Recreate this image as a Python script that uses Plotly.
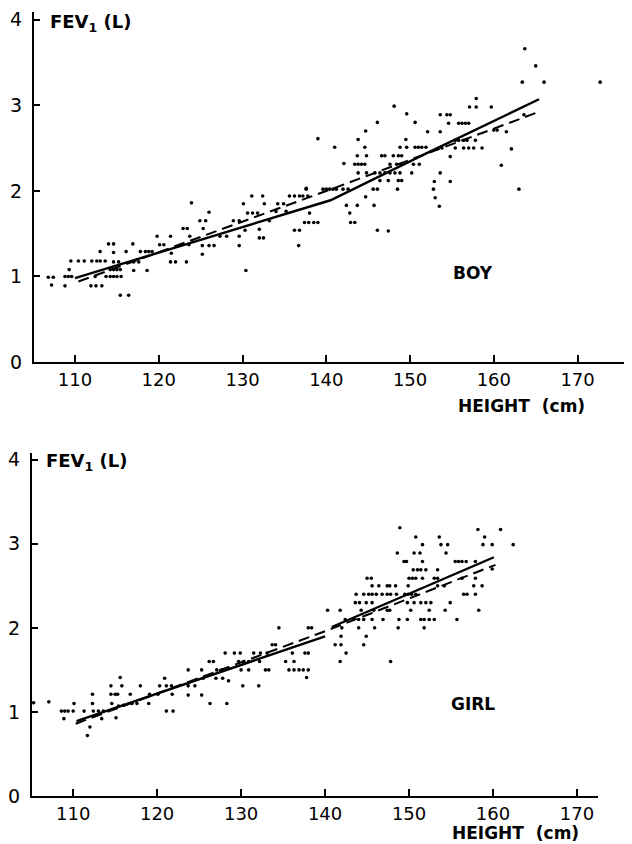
import plotly.graph_objects as go

# ---------------- data ----------------
boy_height = [
    106.8, 107.4, 107.2, 108.8, 108.8, 109.2, 109.6, 109.3,
    109.5, 110.4, 111.1, 112.0, 112.6, 113.0, 113.6,
    111.9, 112.5, 113.2, 112.4, 113.7, 114.2, 114.6, 115.0, 115.5,
    113.0, 114.0, 114.6, 114.6, 114.2, 114.6, 115.0, 115.4,
    114.6, 115.2, 115.4, 116.4, 116.9, 117.0, 117.0, 117.6,
    117.8, 118.4, 118.8, 119.2, 116.1, 118.6, 119.8, 120.1, 120.6,
    121.4, 121.5, 121.4, 122.0, 123.3, 122.9, 123.4, 123.7, 123.6,
    123.9, 124.9, 125.6, 126.0, 125.3, 125.2, 126.0, 126.6, 125.2,
    127.3, 128.1, 128.9, 129.6, 129.6, 130.1, 130.4, 130.3,
    130.6, 131.2, 131.8, 131.1, 132.4, 132.6, 132.0, 132.0, 132.5,
    133.2, 134.2, 134.9, 135.6, 136.2, 136.8, 137.2, 137.8, 137.6,
    136.2, 136.8, 136.7, 137.4, 137.9, 138.0, 134.0, 135.2, 129.6,
    139.0, 141.0, 142.1, 143.8, 144.6, 143.7, 144.8,
    137.6, 139.6, 140.0, 140.4, 140.8, 141.2, 142.0, 142.6,
    142.4, 143.7, 145.7, 142.8, 138.5, 139.0, 142.9, 143.4,
    146.1, 147.4, 144.7, 145.6, 146.1, 148.5,
    146.4, 147.4, 148.6, 149.0,
    143.4, 143.8, 144.2, 144.6, 147.6, 148.4, 149.0, 150.4, 151.1,
    143.8, 144.8, 145.8, 146.4, 147.0, 147.6, 148.2, 148.8, 150.2,
    146.6, 147.0, 148.0, 148.6, 149.0,
    144.7, 146.1, 148.1, 149.6, 150.6, 149.5,
    148.8, 149.6, 150.6, 151.0, 151.4, 151.9,
    153.6, 154.8, 152.9, 152.8, 153.0, 153.5, 154.8, 152.1, 153.6,
    153.6, 154.4, 154.8, 154.6, 155.8, 156.2, 156.6, 157.0,
    155.4, 155.8, 156.4, 156.8, 157.8,
    153.8, 155.4, 156.4, 157.0, 157.6, 158.6,
    157.9, 157.1, 157.9, 159.7, 160.0, 160.4, 161.5, 160.9, 162.1, 163.0,
    163.6, 163.4, 166.0, 172.7, 165.0, 163.7,
]
boy_fev = [
    0.99, 0.99, 0.90, 0.89, 1.00, 1.00, 1.00, 1.08,
    1.18, 1.18, 1.18, 1.18, 1.18, 1.18, 1.18,
    0.89, 0.89, 0.89, 1.00, 1.00, 1.00, 1.00, 1.00, 1.00,
    1.29, 1.38, 1.38, 1.28, 1.08, 1.08, 1.08, 1.08,
    1.17, 1.17, 0.78, 0.78, 1.38, 1.07, 1.17, 1.17,
    1.29, 1.29, 1.29, 1.29, 1.29, 1.07, 1.47, 1.37, 1.37,
    1.47, 1.27, 1.17, 1.17, 1.17, 1.56, 1.56, 1.47, 1.37,
    1.86, 1.65, 1.65, 1.75, 1.56, 1.36, 1.36, 1.36, 1.26,
    1.47, 1.47, 1.65, 1.47, 1.36, 1.85, 1.07, 1.54,
    1.74, 1.74, 1.74, 1.94, 1.94, 1.85, 1.55, 1.45, 1.45,
    1.65, 1.85, 1.85, 1.94, 1.94, 1.94, 1.94, 1.94, 2.03,
    1.54, 1.54, 1.36, 1.63, 1.63, 1.74, 1.76, 1.76, 1.65,
    2.61, 2.51, 2.32, 2.60, 2.51, 2.41, 2.41,
    2.02, 2.02, 2.02, 2.02, 2.02, 2.02, 2.02, 2.02,
    1.83, 1.83, 1.83, 1.74, 1.63, 1.63, 1.63, 1.63,
    1.54, 1.53, 1.93, 2.02, 2.02, 2.02,
    2.12, 2.12, 2.12, 2.12,
    2.31, 2.31, 2.31, 2.31, 2.31, 2.31, 2.31, 2.31, 2.31,
    2.21, 2.21, 2.21, 2.21, 2.21, 2.21, 2.21, 2.21, 2.21,
    2.41, 2.41, 2.41, 2.41, 2.41,
    2.70, 2.80, 2.99, 2.90, 2.80, 2.60,
    2.51, 2.51, 2.51, 2.51, 2.51, 2.51,
    2.21, 2.11, 2.11, 2.02, 1.92, 1.82, 2.40, 2.69, 2.69,
    2.89, 2.89, 2.89, 2.79, 2.79, 2.79, 2.79, 2.79,
    2.59, 2.59, 2.59, 2.59, 2.59,
    2.50, 2.50, 2.50, 2.50, 2.50, 2.50,
    3.08, 2.98, 2.98, 2.98, 2.71, 2.71, 2.69, 2.30, 2.49, 2.02,
    2.89, 3.27, 3.27, 3.27, 3.46, 3.66,
]

girl_height = [
    105.3, 107.1, 108.6, 109.0, 109.4, 108.9, 110.0, 110.1, 111.3, 111.7, 112.0,
    112.3, 112.3, 112.4, 113.0, 113.6, 113.4, 114.5, 114.5, 115.0, 115.3, 114.6,
    115.1, 115.6, 115.8, 115.4, 116.0, 116.8, 117.0, 117.6, 118.0, 119.0, 119.1,
    120.1, 120.3, 120.9, 121.1, 121.9, 121.8, 121.1, 121.7, 123.7, 123.7, 123.7,
    124.5, 125.3, 125.3, 125.5, 126.3, 126.2, 126.7, 127.0, 127.1, 127.7, 127.8,
    128.1, 128.3, 128.5, 129.2, 129.9, 129.7, 130.3, 130.9, 130.0, 130.9, 130.2,
    132.1, 131.5, 132.3, 133.1, 132.2, 132.9, 133.3, 134.5, 133.7, 134.1,
    135.3, 136.3, 135.7, 136.3, 136.9, 137.4, 138.0, 136.1, 137.6, 138.0, 137.8,
    138.0, 138.4,
    148.9,
    150.8, 153.6, 159.0,
    158.2, 160.9,
    151.6, 153.8, 154.6, 158.8, 159.9, 162.4,
    148.6, 150.6, 151.3, 154.4,
    149.4, 149.7, 151.6, 155.5, 155.9, 156.3, 156.8, 157.9,
    159.9,
    150.5, 151.0, 151.4, 152.0, 153.4,
    145.0, 145.5, 150.0, 150.4, 150.8, 151.6, 153.0, 153.4, 156.3, 157.9,
    145.6, 146.4, 147.4, 147.7, 148.4, 149.9, 153.4, 154.2, 157.7, 158.7,
    143.7, 144.6, 145.2, 145.6, 146.1, 146.8, 147.4, 147.8, 148.5, 149.5, 149.9, 150.3, 150.8, 156.5, 156.9, 157.9,
    143.6, 144.1, 144.9, 145.6, 149.8, 150.6, 151.4, 152.0, 152.6, 154.9,
    140.3, 141.8, 144.3, 145.8, 147.4, 147.7, 150.2, 152.4, 154.3, 158.3,
    142.4, 143.4, 144.0, 144.6, 145.6, 146.9, 148.8, 149.8, 151.4, 151.8, 152.4, 153.0, 155.7,
    142.0, 144.0, 145.9, 148.7, 151.8,
    141.9, 144.9,
    141.2, 141.9, 144.6,
    142.5,
    141.8, 147.8,
]
girl_fev = [
    1.11, 1.12, 1.01, 1.01, 1.01, 0.92, 1.01, 1.10, 1.01, 0.72, 0.82,
    1.10, 1.21, 1.01, 1.01, 1.01, 0.92, 1.31, 1.21, 1.21, 1.21, 1.10,
    0.93, 1.41, 1.31, 1.07, 1.08, 1.21, 1.10, 1.10, 1.31, 1.10, 1.21,
    1.21, 1.31, 1.40, 1.01, 1.01, 1.21, 1.31, 1.31, 1.50, 1.31, 1.20,
    1.31, 1.50, 1.20, 1.40, 1.10, 1.60, 1.60, 1.40, 1.50, 1.50, 1.40,
    1.70, 1.10, 1.37, 1.70, 1.70, 1.60, 1.60, 1.60, 1.50, 1.50, 1.31,
    1.31, 1.70, 1.70, 1.70, 1.60, 1.50, 1.50, 2.00, 1.80, 1.80,
    1.60, 1.60, 1.50, 1.50, 1.50, 1.50, 1.50, 1.70, 1.70, 1.70, 1.41,
    2.00, 2.00,
    3.19,
    3.08, 3.08, 3.08,
    3.17, 3.17,
    2.99, 2.99, 2.99, 2.99, 2.99, 2.99,
    2.89, 2.89, 2.89, 2.89,
    2.79, 2.79, 2.79, 2.79, 2.79, 2.79, 2.79, 2.79,
    2.70,
    2.69, 2.69, 2.69, 2.69, 2.69,
    2.59, 2.59, 2.59, 2.59, 2.59, 2.59, 2.59, 2.59, 2.59, 2.59,
    2.50, 2.50, 2.50, 2.50, 2.50, 2.50, 2.50, 2.50, 2.50, 2.50,
    2.40, 2.40, 2.40, 2.40, 2.40, 2.40, 2.40, 2.40, 2.40, 2.40, 2.40, 2.40, 2.40, 2.40, 2.40, 2.40,
    2.30, 2.30, 2.30, 2.30, 2.30, 2.30, 2.30, 2.30, 2.30, 2.30,
    2.21, 2.21, 2.21, 2.21, 2.21, 2.21, 2.21, 2.21, 2.21, 2.21,
    2.10, 2.10, 2.10, 2.10, 2.10, 2.10, 2.10, 2.10, 2.10, 2.10, 2.10, 2.10, 2.10,
    2.00, 2.00, 2.00, 2.00, 2.00,
    1.90, 1.90,
    1.80, 1.80, 1.80,
    1.70,
    1.60, 1.60,
]

# regression lines (solid and dashed)
boy_solid_x = [110.0, 125.0, 140.5, 152.0, 165.4]
boy_solid_y = [0.98, 1.43, 1.89, 2.44, 3.07]
boy_dash_x = [110.4, 140.6, 165.3]
boy_dash_y = [0.94, 2.02, 2.92]
girl_solid_x = [110.4, 140.0, None, 140.8, 160.1]
girl_solid_y = [0.89, 1.90, None, 2.01, 2.84]
girl_dash_x = [110.3, 140.0, 160.3]
girl_dash_y = [0.86, 1.96, 2.75]

x_ticks = [110, 120, 130, 140, 150, 160, 170]
y_ticks = [0, 1, 2, 3, 4]

# ---------------- figure ----------------
# The page body has an 8px margin, so the figure is drawn 8px in from the
# top-left corner; sizes/positions below are expressed in page pixels.
OFF = 8
W, H = 632 - OFF, 844 - OFF
FONT = "DejaVu Sans"

def fx(px):
    return (px - OFF) / W

def fy(py):
    return 1 - (py - OFF) / H

fig = go.Figure()

def add_panel(xs, ys, sx, sy, dx, dy, xa, ya):
    fig.add_trace(go.Scatter(x=xs, y=ys, mode="markers", xaxis=xa, yaxis=ya,
                             marker=dict(size=3.6, color="black"),
                             showlegend=False, hoverinfo="skip"))
    fig.add_trace(go.Scatter(x=sx, y=sy, mode="lines", xaxis=xa, yaxis=ya,
                             line=dict(color="black", width=2.4),
                             showlegend=False, hoverinfo="skip"))
    fig.add_trace(go.Scatter(x=dx, y=dy, mode="lines", xaxis=xa, yaxis=ya,
                             line=dict(color="black", width=2, dash="11px,6px"),
                             showlegend=False, hoverinfo="skip"))

add_panel(boy_height, boy_fev, boy_solid_x, boy_solid_y, boy_dash_x, boy_dash_y, "x", "y")
add_panel(girl_height, girl_fev, girl_solid_x, girl_solid_y, girl_dash_x, girl_dash_y, "x2", "y2")

tickfont = dict(family=FONT, size=18, color="black")
common_x = dict(tickvals=x_ticks, ticks="inside", ticklen=7, tickwidth=1.5, tickcolor="black",
                showline=True, linewidth=2, linecolor="black", showgrid=False, zeroline=False,
                tickfont=tickfont, ticklabelstandoff=0, fixedrange=True, automargin=False)
common_y = dict(tickvals=y_ticks, ticks="inside", ticklen=6, tickwidth=1.5, tickcolor="black",
                showline=True, linewidth=2, linecolor="black", showgrid=False, zeroline=False,
                tickfont=dict(family=FONT, size=19, color="black"),
                ticklabelstandoff=6, fixedrange=True, automargin=False)

fig.update_layout(
    template="none",
    width=W, height=H,
    margin=dict(l=0, r=0, t=0, b=0, autoexpand=False),
    paper_bgcolor="white", plot_bgcolor="white",
    xaxis=dict(domain=[fx(34), 1.0], range=[105.1, 176.5], anchor="y", **common_x),
    yaxis=dict(domain=[fy(362), fy(12)], range=[0, 4.09], anchor="x", **common_y),
    xaxis2=dict(domain=[fx(32), fx(598)], range=[105.1, 172.5], anchor="y2", **common_x),
    yaxis2=dict(domain=[fy(796), fy(453)], range=[0, 4.08], anchor="x2", **common_y),
)

def ann(text, px, py, xanchor="left", size=17):
    fig.add_annotation(text=text, x=fx(px), y=fy(py), xref="paper", yref="paper",
                       xanchor=xanchor, yanchor="middle", showarrow=False,
                       font=dict(family=FONT, size=size, color="black", weight="bold"))

ann("FEV<sub>1</sub> (L)", 48, 23, size=18)
ann("FEV<sub>1</sub> (L)", 44, 462, size=18)
ann("BOY", 473, 273, xanchor="center")
ann("GIRL", 473, 704, xanchor="center")
ann("HEIGHT\u00a0\u00a0(cm)", 456, 406)
ann("HEIGHT\u00a0\u00a0(cm)", 450, 833)

fig.write_html("out.html")
